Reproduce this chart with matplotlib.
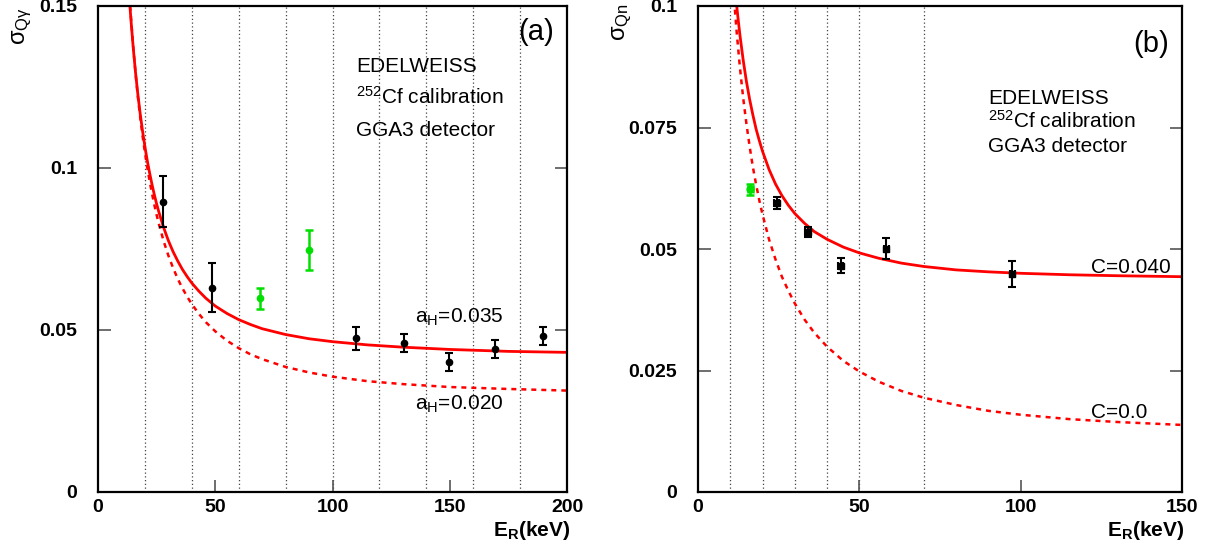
import matplotlib
matplotlib.use('Agg')
import matplotlib.pyplot as plt

plt.rcParams['font.family'] = ['Liberation Sans', 'DejaVu Sans']
plt.rcParams['mathtext.default'] = 'regular'

# ---- panel (a): gamma band width vs recoil energy ----
e_gam = [27.9, 48.5, 110.2, 130.6, 149.7, 169.3, 189.6]
sig_gam = [0.0896, 0.0631, 0.0474, 0.0459, 0.0400, 0.0441, 0.0482]
err_gam = [0.0078, 0.0075, 0.0035, 0.0028, 0.0028, 0.0027, 0.0027]

e_gam_green = [69.2, 90.0]
sig_gam_green = [0.0598, 0.0748]
err_gam_green = [0.0033, 0.0062]

# resolution curves for a_H = 0.035 and a_H = 0.020
e_a035 = [13.6, 14, 15, 16, 17, 18, 19, 20, 21, 22, 23, 24, 25, 26, 28, 30, 32,
          34, 36, 38, 40, 43, 46, 50, 55, 60, 65, 70, 80, 90, 100, 115, 130,
          150, 175, 200]
s_a035 = [0.1501, 0.1462, 0.1373, 0.1295, 0.1227, 0.1167, 0.1114, 0.1066,
          0.1023, 0.0985, 0.0950, 0.0918, 0.0889, 0.0863, 0.0816, 0.0776,
          0.0742, 0.0713, 0.0687, 0.0665, 0.0645, 0.0620, 0.0598, 0.0574,
          0.0551, 0.0532, 0.0517, 0.0504, 0.0486, 0.0473, 0.0464, 0.0454,
          0.0447, 0.0440, 0.0434, 0.0431]

e_a020 = [13.7, 14, 15, 16, 17, 18, 19, 20, 21, 22, 23, 24, 25, 26, 28, 30, 32,
          34, 36, 38, 40, 43, 46, 50, 55, 60, 65, 70, 80, 90, 100, 115, 130,
          150, 175, 200]
s_a020 = [0.1500, 0.1470, 0.1375, 0.1293, 0.1220, 0.1156, 0.1099, 0.1048,
          0.1002, 0.0960, 0.0922, 0.0887, 0.0855, 0.0826, 0.0774, 0.0730,
          0.0692, 0.0658, 0.0629, 0.0603, 0.0580, 0.0550, 0.0524, 0.0496,
          0.0467, 0.0444, 0.0425, 0.0410, 0.0386, 0.0369, 0.0356, 0.0342,
          0.0333, 0.0324, 0.0318, 0.0313]

# ---- panel (b): neutron band width vs recoil energy ----
e_neu = [24.4, 34.1, 44.2, 58.4, 97.4]
sig_neu = [0.0594, 0.0535, 0.0466, 0.0501, 0.0449]
err_neu = [0.0012, 0.0011, 0.0015, 0.0022, 0.0027]

e_neu_green = [16.2]
sig_neu_green = [0.0623]
err_neu_green = [0.0011]

# curves with C = 0.040 and C = 0.0
e_c040 = [12, 12.5, 13, 14, 15, 16, 17, 18, 19, 20, 22, 24, 26, 28, 30, 33, 36,
          40, 45, 50, 56, 63, 70, 80, 90, 100, 115, 130, 150]
s_c040 = [0.1000, 0.0969, 0.0940, 0.0889, 0.0845, 0.0808, 0.0776, 0.0747,
          0.0723, 0.0701, 0.0664, 0.0634, 0.0610, 0.0590, 0.0573, 0.0553,
          0.0536, 0.0520, 0.0504, 0.0492, 0.0481, 0.0471, 0.0464, 0.0457,
          0.0453, 0.0450, 0.0447, 0.0445, 0.0443]

e_c000 = [11.2, 12, 13, 14, 15, 16, 17, 18, 19, 20, 22, 24, 26, 28, 30, 33, 36,
          40, 45, 50, 56, 63, 70, 80, 90, 100, 115, 130, 150]
s_c000 = [0.1013, 0.0945, 0.0873, 0.0811, 0.0758, 0.0711, 0.0669, 0.0633,
          0.0600, 0.0571, 0.0520, 0.0479, 0.0443, 0.0414, 0.0388, 0.0355,
          0.0328, 0.0299, 0.0270, 0.0248, 0.0227, 0.0208, 0.0194, 0.0179,
          0.0167, 0.0159, 0.0150, 0.0144, 0.0138]

RED = '#ff0000'
GREEN = '#00e000'


def setup_axes(ax, xmax, ymax, xticks, yticks, ylabels, grid):
    ax.set_xlim(0, xmax)
    ax.set_ylim(0, ymax)
    for g in grid:
        ax.axvline(g, color='#444444', lw=0.9, ls=(0, (1, 2)), zorder=0)
    ax.set_xticks(xticks)
    ax.set_yticks(yticks)
    ax.set_yticklabels(ylabels)
    ax.tick_params(axis='both', direction='in', length=9, width=1.2,
                   color='#555555', labelsize=14, right=True)
    ax.tick_params(axis='y', pad=15)
    ax.tick_params(axis='x', pad=5)
    for lab in ax.get_xticklabels() + ax.get_yticklabels():
        lab.set_fontweight('bold')
    for s in ax.spines.values():
        s.set_linewidth(1.6)


fig = plt.figure(figsize=(12.07, 5.5), dpi=100)

# panel (a)
ax1 = fig.add_axes([98 / 1207, 58 / 550, 469 / 1207, 486 / 550])
setup_axes(ax1, 200, 0.15, [0, 50, 100, 150, 200], [0, 0.05, 0.1, 0.15],
           ['0', '0.05', '0.1', '0.15'], range(20, 200, 20))
ax1.plot(e_a035, s_a035, color=RED, lw=2)
ax1.plot(e_a020, s_a020, color=RED, lw=1.8, ls=(0, (2, 2)))
ax1.errorbar(e_gam, sig_gam, yerr=err_gam, fmt='o', color='black', ms=4.5,
             elinewidth=1.5, capsize=3, capthick=1.5, zorder=5)
ax1.errorbar(e_gam_green, sig_gam_green, yerr=err_gam_green, fmt='o', color=GREEN,
             ms=4.5, elinewidth=1.8, capsize=3, capthick=1.8, zorder=5)

ax1.text(110, 0.1296, 'EDELWEISS', fontsize=15)
ax1.text(110, 0.1199, '$^{252}$Cf calibration', fontsize=15)
ax1.text(110, 0.1100, 'GGA3 detector', fontsize=15)
ax1.text(179, 0.1395, '(a)', fontsize=21)
ax1.text(135.2, 0.0523, '$a_H$=0.035', fontsize=15)
ax1.text(135.2, 0.0253, '$a_H$=0.020', fontsize=15)

# panel (b)
ax2 = fig.add_axes([698 / 1207, 58 / 550, 484 / 1207, 486 / 550])
setup_axes(ax2, 150, 0.1, [0, 50, 100, 150], [0, 0.025, 0.05, 0.075, 0.1],
           ['0', '0.025', '0.05', '0.075', '0.1'], [10, 20, 30, 40, 50, 70])
ax2.plot(e_c040, s_c040, color=RED, lw=2)
ax2.plot(e_c000, s_c000, color=RED, lw=1.8, ls=(0, (2, 2)))
ax2.errorbar(e_neu, sig_neu, yerr=err_neu, xerr=0.8, fmt='s', color='black', ms=5,
             elinewidth=1.5, capsize=3, capthick=1.5, zorder=5)
ax2.errorbar(e_neu_green, sig_neu_green, yerr=err_neu_green, xerr=0.8, fmt='o',
             color=GREEN, ms=5, elinewidth=1.8, capsize=3, capthick=1.8, zorder=5)

ax2.text(90, 0.0798, 'EDELWEISS', fontsize=15)
ax2.text(90, 0.0749, '$^{252}$Cf calibration', fontsize=15)
ax2.text(90, 0.0700, 'GGA3 detector', fontsize=15)
ax2.text(135, 0.0905, '(b)', fontsize=21)
ax2.text(121.8, 0.0450, 'C=0.040', fontsize=15)
ax2.text(121.8, 0.0153, 'C=0.0', fontsize=15)

# axis titles
fig.text(570 / 1207, 1 - 531 / 550, '$E_R$(keV)', fontsize=15, fontweight='bold',
         ha='right', va='center')
fig.text(1184 / 1207, 1 - 531 / 550, '$E_R$(keV)', fontsize=15, fontweight='bold',
         ha='right', va='center')
fig.text(22 / 1207, 1 - 26 / 550, r'$\sigma_{Q\gamma}$', fontsize=17, rotation=90,
         ha='center', va='center')
fig.text(622 / 1207, 1 - 22 / 550, r'$\sigma_{Qn}$', fontsize=17, rotation=90,
         ha='center', va='center')

fig.savefig('out.png', dpi=100)
